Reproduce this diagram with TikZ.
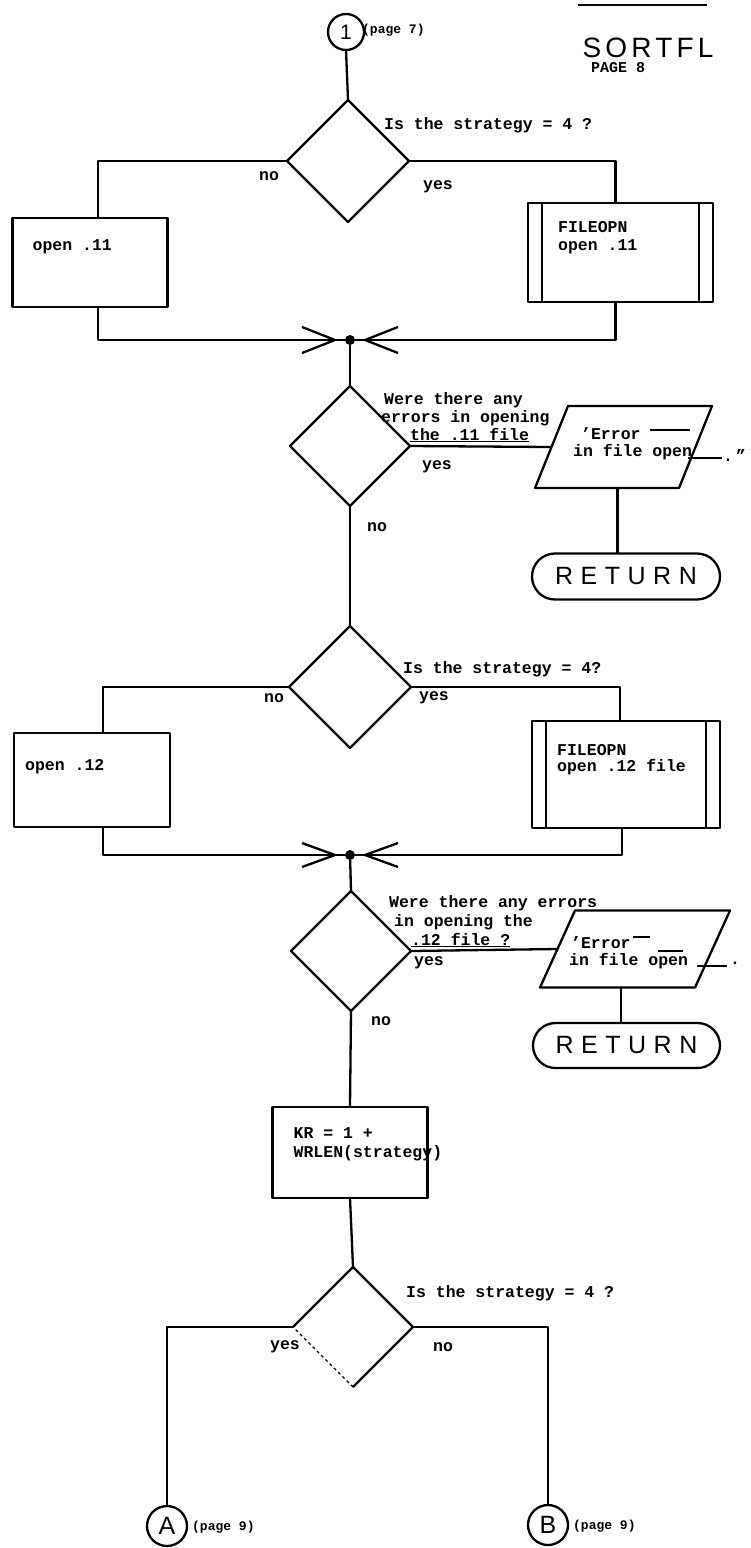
\documentclass[tikz,border=0pt]{standalone}
\usepackage{fontspec}
\setmainfont{Liberation Mono}
\newfontfamily\sortfont[LetterSpace=15]{Liberation Sans}
\newfontfamily\retfont[LetterSpace=30]{Liberation Sans}
\newfontfamily\circfont{Liberation Sans}
\usetikzlibrary{shapes.geometric,shapes.misc}
\tikzset{
  txt/.style={font=\fontsize{16.5}{18}\selectfont\bfseries, inner sep=0pt, anchor=west},
  small/.style={font=\fontsize{13}{15}\selectfont\bfseries, inner sep=0pt, anchor=west},
  dia/.style={diamond, draw, minimum width=#1, minimum height=#1, inner sep=0pt, outer sep=0pt},
  dia/.default=120pt,
  procbox/.style={rectangle, draw, inner sep=0pt, outer sep=0pt},
  fobox/.style={rectangle, draw, inner sep=0pt, outer sep=0pt,
    path picture={
      \draw ([xshift=14pt]path picture bounding box.north west) -- ([xshift=14pt]path picture bounding box.south west);
      \draw ([xshift=-14pt]path picture bounding box.north east) -- ([xshift=-14pt]path picture bounding box.south east);
    }},
  iobox/.style={rectangle, draw=none, inner sep=0pt, outer sep=0pt},
  termbox/.style={rounded rectangle, draw, inner sep=0pt, outer sep=0pt, minimum width=188pt, minimum height=46pt,
    font=\retfont\fontsize{25}{27}\selectfont},
  conn/.style={circle, draw, inner sep=0pt, outer sep=0pt, font=\circfont\fontsize{25}{27}\selectfont},
  joint/.style={circle, fill, inner sep=0pt, outer sep=0pt, minimum size=10pt},
}
\begin{document}
\begin{tikzpicture}[x=1pt, y=-1pt, line width=2.3pt, line join=round]
\useasboundingbox (0,0) rectangle (750,1548);

% header
\draw (578,5) -- (707,5);
\node[inner sep=0pt, anchor=base, text depth=0pt, font=\sortfont\fontsize{28}{30}\selectfont] (sortfl) at (648,57) {SORTFL};
\node[inner sep=0pt, anchor=base west, text depth=0pt, font=\fontsize{15}{17}\selectfont\bfseries] (page8) at (590,72) {PAGE 8};

% start connector
\node[conn, minimum size=36pt, font=\circfont\fontsize{21}{23}\selectfont] (c1) at (346,32) {1};
\node[small] (p7) at (361,30) {(page 7)};

% decision 1
\node[dia=122pt] (d1) at (348,161) {};
\node[txt] (q1) at (383,125) {Is the strategy = 4 ?};
\node[txt] (no1) at (258,176) {no};
\node[txt] (yes1) at (422,187) {yes};
\draw (c1.south) -- (d1.north);

\node[procbox, minimum width=155pt, minimum height=89pt] (box1) at (90,262.5) {};
\node[txt] (box1t) at ([shift={(19,29)}]box1.north west) {open .11};
\node[fobox, minimum width=185pt, minimum height=99pt] (fo1) at (620.5,252.5) {};
\node[txt] (fo1a) at ([shift={(29,24)}]fo1.north west) {FILEOPN};
\node[txt] (fo1b) at ([shift={(29,44)}]fo1.north west) {open .11};
\draw (d1.west) -| ([xshift=8pt]box1.north);
\draw (d1.east) -| ([xshift=-5pt]fo1.north);

% merge 1
\node[joint] (dot1) at (350,340) {};
\draw ([xshift=8pt]box1.south) |- (dot1);
\draw ([xshift=-5pt]fo1.south) |- (dot1);
\draw (dot1) ++(-15,0) +(-33,-13) -- +(0,0) -- +(-33,13);
\draw (dot1) ++(15,0) +(33,-13) -- +(0,0) -- +(33,13);

% decision 2
\node[dia=120pt] (d2) at (350,446) {};
\draw (dot1) -- (d2.north);
\node[txt] (q2a) at (383,400) {Were there any};
\node[txt] (q2b) at (380,418) {errors in opening};
\node[txt] (q2c) at (409,435) {\underline{the .11 file}};
\node[txt] (yes2) at (421,467) {yes};
\node[iobox, minimum width=177pt, minimum height=82pt] (par1) at (623.5,447) {};
\draw ([xshift=33pt]par1.north west) -- (par1.north east) -- ([xshift=-33pt]par1.south east) -- (par1.south west) -- cycle;
\draw (d2.east) -- ([xshift=16.5pt]par1.west);
\node[txt] (e1a) at (580,434) {'Error};
\draw (650,430) -- (690,430);
\node[txt] (e1b) at (572,452) {in file open};
\draw (688,458) -- (722,458);
\node[txt] (e1c) at (722,456) {.\,"};
\node[termbox] (ret1) at (626,576.5) {RETURN};
\draw ([xshift=-6pt]par1.south) -- ([xshift=-6pt]par1.south |- ret1.north);

% decision 3
\node[txt] (no2) at (366,527) {no};
\node[dia=122pt] (d3) at (350,687) {};
\draw (d2.south) -- (d3.north);
\node[txt] (q3) at (402,669) {Is the strategy = 4?};
\node[txt] (no3) at (263,698) {no};
\node[txt] (yes3) at (418,698) {yes};

\node[procbox, minimum width=156pt, minimum height=94pt] (box2) at (92,780) {};
\node[txt] (box2t) at ([shift={(10,34)}]box2.north west) {open .12};
\node[fobox, minimum width=188pt, minimum height=107pt] (fo2) at (626,774.5) {};
\node[txt] (fo2a) at ([shift={(24,29)}]fo2.north west) {FILEOPN};
\node[txt] (fo2b) at ([shift={(24,46)}]fo2.north west) {open .12 file};
\draw (d3.west) -| ([xshift=11pt]box2.north);
\draw (d3.east) -| ([xshift=-6pt]fo2.north);

% merge 2
\node[joint] (dot2) at (350,855) {};
\draw ([xshift=11pt]box2.south) |- (dot2);
\draw ([xshift=-4pt]fo2.south) |- (dot2);
\draw (dot2) ++(-15,0) +(-33,-12) -- +(0,0) -- +(-33,12);
\draw (dot2) ++(15,0) +(33,-12) -- +(0,0) -- +(33,12);

% decision 4
\node[dia=120pt] (d4) at (351,951) {};
\draw (dot2) -- (d4.north);
\node[txt] (q4a) at (388,903) {Were there any errors};
\node[txt] (q4b) at (393,922) {in opening the};
\node[txt] (q4c) at (410,940) {\underline{.12 file ?}};
\node[txt] (yes4) at (413,963) {yes};
\node[iobox, minimum width=190pt, minimum height=77pt] (par2) at (635,949) {};
\draw ([xshift=35pt]par2.north west) -- (par2.north east) -- ([xshift=-35pt]par2.south east) -- (par2.south west) -- cycle;
\draw (d4.east) -- ([xshift=17.5pt]par2.west);
\node[txt] (e2a) at (570,943) {'Error};
\draw (633,937) -- (650,937);
\node[txt] (e2b) at (568,961) {in file open};
\draw (658,951) -- (683,951);
\draw (697,966) -- (727,966);
\node[txt] (e2c) at (729,963) {.};
\node[termbox, minimum width=187pt, minimum height=45pt] (ret2) at (626.5,1045.5) {RETURN};
\draw ([xshift=-14pt]par2.south) -- ([xshift=-14pt]par2.south |- ret2.north);

% assignment
\node[txt] (no4) at (370,1021) {no};
\node[procbox, minimum width=155pt, minimum height=91pt] (kr) at (350,1152.5) {};
\draw (d4.south) -- (kr.north);
\node[txt] (kra) at ([shift={(20,26)}]kr.north west) {KR = 1 +};
\node[txt] (krb) at ([shift={(20,46)}]kr.north west) {WRLEN(strategy)};

% decision 5
\node[dia=120pt, draw=none] (d5) at (353,1327) {};
\draw (d5.west) -- (d5.north) -- (d5.east) -- (d5.south);
\draw[dashed, line width=1.2pt] (d5.south) -- (d5.west);
\draw (kr.south) -- (d5.north);
\node[txt] (q5) at (405,1293) {Is the strategy = 4 ?};
\node[txt, anchor=east] (yes5) at (301,1347) {yes};
\node[txt] (no5) at (432,1347) {no};

\node[conn, minimum size=40pt] (cA) at (167,1526) {A};
\node[conn, minimum size=40pt] (cB) at (548,1525) {B};
\draw (d5.west) -| (cA.north);
\draw (d5.east) -| (cB.north);
\node[small] (pA) at (191,1527) {(page 9)};
\node[small] (pB) at (572,1526) {(page 9)};
\end{tikzpicture}
\end{document}
